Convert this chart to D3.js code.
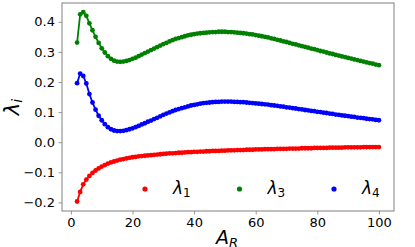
<!DOCTYPE html>
<html>
<head>
<meta charset="utf-8">
<script src="https://cdn.jsdelivr.net/npm/d3@7"></script>
<style>
  body { margin: 0; background: #fff; }
  text { font-family: "DejaVu Sans", sans-serif; }
</style>
</head>
<body>
<svg id="chart" width="415" height="247"></svg>
<script>
// A_R values (x axis)
const aR = d3.range(2, 101);

// eigenvalues, one per A_R
const lambda1 = [
  -0.197, -0.165, -0.140, -0.124, -0.112, -0.102, -0.094, -0.087, -0.081, -0.076,
  -0.071, -0.067, -0.064, -0.061, -0.058, -0.056, -0.054, -0.052, -0.050, -0.049,
  -0.047, -0.046, -0.045, -0.044, -0.043, -0.042, -0.041, -0.040, -0.039, -0.038,
  -0.037, -0.037, -0.036, -0.035, -0.035, -0.034, -0.033, -0.033, -0.032, -0.032,
  -0.031, -0.031, -0.030, -0.030, -0.029, -0.029, -0.029, -0.028, -0.028, -0.027,
  -0.027, -0.027, -0.026, -0.026, -0.026, -0.025, -0.025, -0.025, -0.024, -0.024,
  -0.024, -0.023, -0.023, -0.023, -0.023, -0.022, -0.022, -0.022, -0.022, -0.021,
  -0.021, -0.021, -0.021, -0.020, -0.020, -0.020, -0.020, -0.019, -0.019, -0.019,
  -0.019, -0.019, -0.018, -0.018, -0.018, -0.018, -0.018, -0.017, -0.017, -0.017,
  -0.017, -0.017, -0.017, -0.016, -0.016, -0.016, -0.016, -0.016, -0.016
];

const lambda3 = [
  0.331, 0.425, 0.432, 0.420, 0.395, 0.372, 0.350, 0.330, 0.312, 0.298,
  0.286, 0.277, 0.271, 0.268, 0.267, 0.268, 0.270, 0.273, 0.277, 0.281,
  0.286, 0.291, 0.296, 0.301, 0.306, 0.311, 0.316, 0.321, 0.326, 0.330,
  0.335, 0.339, 0.343, 0.346, 0.349, 0.352, 0.355, 0.357, 0.359, 0.361,
  0.362, 0.363, 0.364, 0.365, 0.366, 0.366, 0.367, 0.367, 0.367, 0.366,
  0.366, 0.365, 0.364, 0.363, 0.362, 0.361, 0.359, 0.358, 0.356, 0.354,
  0.352, 0.350, 0.348, 0.345, 0.343, 0.340, 0.338, 0.335, 0.333, 0.330,
  0.327, 0.325, 0.322, 0.319, 0.317, 0.314, 0.311, 0.309, 0.306, 0.303,
  0.301, 0.298, 0.295, 0.293, 0.290, 0.288, 0.285, 0.283, 0.280, 0.278,
  0.275, 0.273, 0.270, 0.268, 0.265, 0.263, 0.261, 0.258, 0.256
];

const lambda4 = [
  0.196, 0.228, 0.220, 0.195, 0.160, 0.132, 0.108, 0.088, 0.073, 0.060,
  0.050, 0.043, 0.039, 0.037, 0.037, 0.038, 0.040, 0.043, 0.046, 0.050,
  0.054, 0.059, 0.063, 0.068, 0.072, 0.077, 0.081, 0.086, 0.091, 0.095,
  0.099, 0.103, 0.107, 0.110, 0.113, 0.116, 0.119, 0.122, 0.124, 0.126,
  0.128, 0.130, 0.131, 0.132, 0.133, 0.134, 0.134, 0.135, 0.135, 0.135,
  0.135, 0.134, 0.134, 0.133, 0.133, 0.132, 0.131, 0.130, 0.129, 0.128,
  0.127, 0.126, 0.125, 0.123, 0.122, 0.121, 0.119, 0.118, 0.116, 0.115,
  0.113, 0.112, 0.110, 0.109, 0.107, 0.106, 0.104, 0.103, 0.101, 0.100,
  0.098, 0.097, 0.095, 0.094, 0.092, 0.091, 0.089, 0.088, 0.087, 0.085,
  0.084, 0.082, 0.081, 0.080, 0.078, 0.077, 0.076, 0.074, 0.073
];

const xTicks = [0, 20, 40, 60, 80, 100];
const yTicks = [-0.2, -0.1, 0.0, 0.1, 0.2, 0.3, 0.4];

const series = [
  { sub: "1", values: lambda1, color: "red" },
  { sub: "3", values: lambda3, color: "green" },
  { sub: "4", values: lambda4, color: "blue" }
];

const svg = d3.select("#chart");
const margin = { top: 3, right: 21, bottom: 36, left: 62 };
const width = 415, height = 247;
const innerWidth = width - margin.left - margin.right;
const innerHeight = height - margin.top - margin.bottom;

const xScale = d3.scaleLinear().domain([-2.9, 104.9]).range([0, innerWidth]);
const yScale = d3.scaleLinear().domain([-0.2285, 0.4625]).range([innerHeight, 0]);

const g = svg.append("g")
  .attr("transform", `translate(${margin.left},${margin.top})`);

// Axes
const xAxis = g.append("g")
  .attr("transform", `translate(0,${innerHeight})`)
  .call(d3.axisBottom(xScale).tickValues(xTicks).tickSize(3.5).tickPadding(3.5).tickFormat(d3.format("d")));

const yAxis = g.append("g")
  .call(d3.axisLeft(yScale).tickValues(yTicks).tickSize(3.5).tickPadding(3.5).tickFormat(d3.format(".1f")));

[xAxis, yAxis].forEach(ax => {
  ax.select(".domain").remove();
  ax.selectAll(".tick line").attr("stroke", "#808080").attr("stroke-width", 0.8);
  ax.selectAll(".tick text")
    .attr("fill", "#000")
    .style("font-size", "13px")
    .style("font-family", "DejaVu Sans, sans-serif");
});

// Lines and markers
const line = d3.line()
  .x((d, i) => xScale(aR[i]))
  .y(d => yScale(d));

series.forEach(s => {
  g.append("path")
    .datum(s.values)
    .attr("fill", "none")
    .attr("stroke", s.color)
    .attr("stroke-width", 1.8)
    .attr("d", line);

  g.selectAll(null)
    .data(s.values)
    .enter()
    .append("circle")
    .attr("cx", (d, i) => xScale(aR[i]))
    .attr("cy", d => yScale(d))
    .attr("r", 2.4)
    .attr("fill", s.color);
});

// Frame
g.append("rect")
  .attr("x", 0)
  .attr("y", 0)
  .attr("width", innerWidth)
  .attr("height", innerHeight)
  .attr("fill", "none")
  .attr("stroke", "#808080")
  .attr("stroke-width", 1);

// Legend
const legend = g.append("g")
  .attr("transform", `translate(${145 - margin.left}, ${189 - margin.top})`);

series.forEach((s, i) => {
  const item = legend.append("g")
    .attr("transform", `translate(${i * 94.5}, 0)`);

  item.append("circle")
    .attr("cx", 0)
    .attr("cy", 0)
    .attr("r", 2.6)
    .attr("fill", s.color);

  const t = item.append("text")
    .attr("x", 28)
    .attr("y", 5)
    .style("font-size", "17px")
    .attr("fill", "#000");
  t.append("tspan").style("font-style", "italic").text("λ");
  t.append("tspan")
    .attr("dy", 3)
    .style("font-size", "12px")
    .text(s.sub);
});

// Axis labels
const xLabel = svg.append("text")
  .attr("x", 227)
  .attr("y", 244)
  .attr("text-anchor", "middle")
  .style("font-size", "19px")
  .attr("fill", "#000");
xLabel.append("tspan").style("font-style", "italic").text("A");
xLabel.append("tspan")
  .attr("dy", 3)
  .style("font-size", "13px")
  .style("font-style", "italic")
  .text("R");

const yLabel = svg.append("text")
  .attr("transform", "translate(19,107) rotate(-90)")
  .attr("text-anchor", "middle")
  .style("font-size", "21px")
  .attr("fill", "#000");
yLabel.append("tspan").style("font-style", "italic").text("λ");
yLabel.append("tspan")
  .attr("dy", 3)
  .style("font-size", "14px")
  .style("font-style", "italic")
  .text("i");
</script>
</body>
</html>
